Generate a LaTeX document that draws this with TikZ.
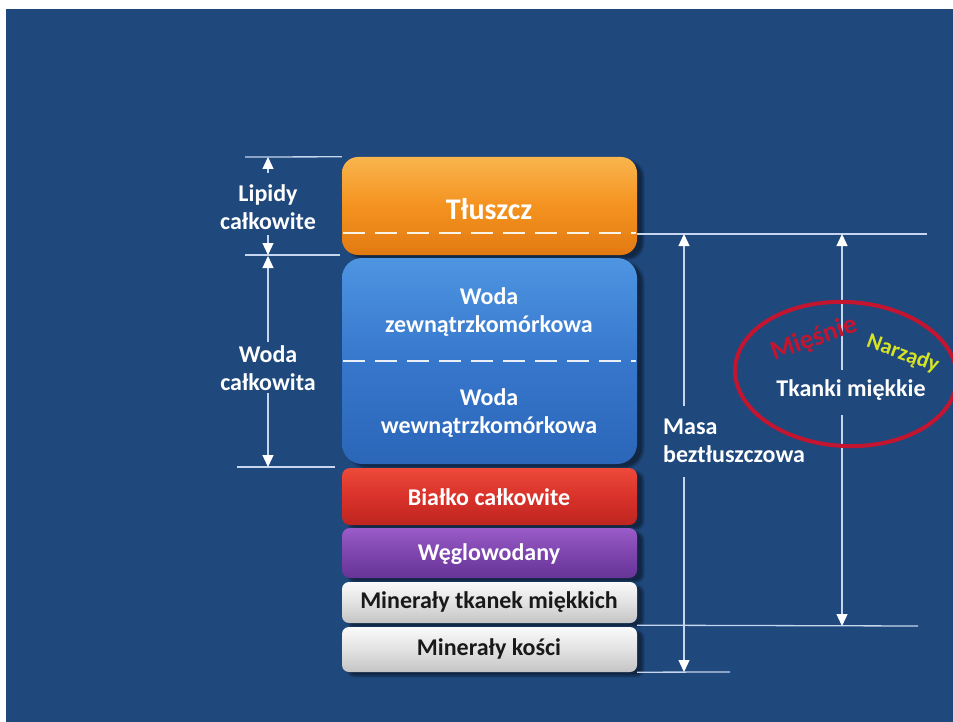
\documentclass[tikz,border=0pt]{standalone}
\usepackage{fontspec}
\setmainfont{Carlito}
\usetikzlibrary{arrows.meta,shadows.blur,shapes.geometric}
\definecolor{bg}{HTML}{1F487C}
\definecolor{linec}{HTML}{C6D6EE}
\definecolor{fatT}{HTML}{F9B54E}
\definecolor{fatM}{HTML}{F4921F}
\definecolor{fatB}{HTML}{E27A12}
\definecolor{watT}{HTML}{4E95E2}
\definecolor{watM}{HTML}{3777CC}
\definecolor{watB}{HTML}{2B66B8}
\definecolor{proT}{HTML}{EE4A3A}
\definecolor{proM}{HTML}{D8322A}
\definecolor{proB}{HTML}{BF2520}
\definecolor{carT}{HTML}{9A5CC8}
\definecolor{carM}{HTML}{7E45AE}
\definecolor{carB}{HTML}{663496}
\definecolor{minT}{HTML}{FAFAFA}
\definecolor{minM}{HTML}{E2E2E2}
\definecolor{minB}{HTML}{C4C4C4}
\definecolor{ellred}{HTML}{C41530}
\definecolor{narz}{HTML}{D6E425}
\newcommand\labfont{\fontsize{24}{28}\selectfont\bfseries}
\begin{document}
\begin{tikzpicture}[x=1pt,y=-1pt,
  layer/.style={rounded corners=#1, minimum width=295pt, inner sep=0pt,
    blur shadow={shadow xshift=6pt,shadow yshift=-4pt,shadow opacity=45,shadow blur steps=8}},
  layer/.default=8pt,
  txt/.style={font=\labfont, text=white, align=center, inner sep=2pt},
  dtxt/.style={font=\labfont, text=black!90, align=center, inner sep=2pt},
  dim/.style={draw=linec, line width=1.3pt},
  tip/.style={dim, -{Triangle[width=11pt,length=12pt,fill=white,color=white]}},
  divider/.style={draw=white, line width=2.5pt, dash pattern=on 22pt off 10pt, opacity=0.9}]
\fill[white] (0,0) rectangle (953,722);
\fill[bg] (6,9) rectangle (953,722);
\useasboundingbox (0,0) rectangle (953,722);

% layers
\node[layer=16pt, minimum height=98pt, top color=fatT, bottom color=fatB, middle color=fatM] (fat) at (489.5,206) {};
\node[layer=20pt, minimum height=206pt, top color=watT, bottom color=watB, middle color=watM] (wat) at (489.5,361) {};
\node[layer=8pt, minimum height=57pt, top color=proT, bottom color=proB, middle color=proM] (pro) at (489.5,496.5) {};
\node[layer=8pt, minimum height=50pt, top color=carT, bottom color=carB, middle color=carM] (car) at (489.5,553) {};
\node[layer=7pt, minimum height=41pt, top color=minT, bottom color=minB, middle color=minM] (min1) at (489.5,602.5) {};
\node[layer=7pt, minimum height=45pt, top color=minT, bottom color=minB, middle color=minM] (min2) at (489.5,649.5) {};

% dividers
\draw[divider] (343,233) -- (636,233);
\draw[divider] (343,361) -- (636,361);

% layer texts
\node[txt, font=\fontsize{30}{34}\selectfont\bfseries] (tl) at (489,209) {Tłuszcz};
\node[txt] (wz) at (489,312) {Woda\\zewnątrzkomórkowa};
\node[txt] (ww) at (489,413) {Woda\\wewnątrzkomórkowa};
\node[txt] (bc) at (489,497) {Białko całkowite};
\node[txt] (wg) at (489,554) {Węglowodany};
\node[dtxt] (mt) at (489,602) {Minerały tkanek miękkich};
\node[dtxt] (mk) at (489,649) {Minerały kości};

% left dimensions
\coordinate (h1a) at (245,157);
\coordinate (h2a) at (245,255); \coordinate (h2b) at (340,255);
\coordinate (h3a) at (237,467); \coordinate (h3b) at (335,467);
\draw[dim] (h1a) -- (fat.north west);
\draw[dim] (h2a) -- (h2b);
\draw[dim] (h3a) -- (h3b);
\node[txt] (lip) at (268,207) {Lipidy\\całkowite};
\node[txt] (wc) at (268,368) {Woda\\całkowita};
\coordinate (l1) at (268,157); \coordinate (l1b) at (268,173);
\coordinate (l2) at (268,255); \coordinate (l2b) at (268,235);
\coordinate (l3) at (268,256); \coordinate (l3b) at (268,342);
\coordinate (l4) at (268,467); \coordinate (l4b) at (268,393);
\draw[tip] (l1b) -- (l1);
\draw[tip] (l2b) -- (l2);
\draw[tip] (l3b) -- (l3);
\draw[tip] (l4b) -- (l4);

% right dimensions
\coordinate (r1b) at (927,234);
\coordinate (r2b) at (918,626);
\coordinate (r3b) at (730,672);
\draw[dim] (637,234) -- (r1b);
\draw[dim] (min1.south east) ++(0,2) -- (r2b);
\draw[dim] (min2.south east) -- (r3b);
\node[txt, align=left, anchor=west] (masa) at (661,441) {Masa\\beztłuszczowa};
\coordinate (m1) at (684,406); \coordinate (m1t) at (684,234);
\coordinate (m2) at (684,477); \coordinate (m2t) at (684,672);
\draw[tip] (m1) -- (m1t);
\draw[tip] (m2) -- (m2t);
\coordinate (t1) at (842,370); \coordinate (t1t) at (842,234);
\coordinate (t2) at (842,415); \coordinate (t2t) at (842,626);
\draw[tip] (t1) -- (t1t);
\draw[tip] (t2) -- (t2t);

% ellipse
\node[draw=ellred, line width=4pt, ellipse, minimum width=222pt, minimum height=144pt, rotate=-3] (ell) at (846,374) {};
\node[txt] (tk) at (851,390) {Tkanki miękkie};
\node[font=\fontsize{27}{30}\selectfont\bfseries, text=ellred, rotate=19, inner sep=0pt] (mie) at (814,339) {Mięśnie};
\node[font=\fontsize{22}{26}\selectfont\bfseries, text=narz, rotate=-20, inner sep=0pt] (nar) at (903,354) {Narządy};
\end{tikzpicture}
\end{document}
